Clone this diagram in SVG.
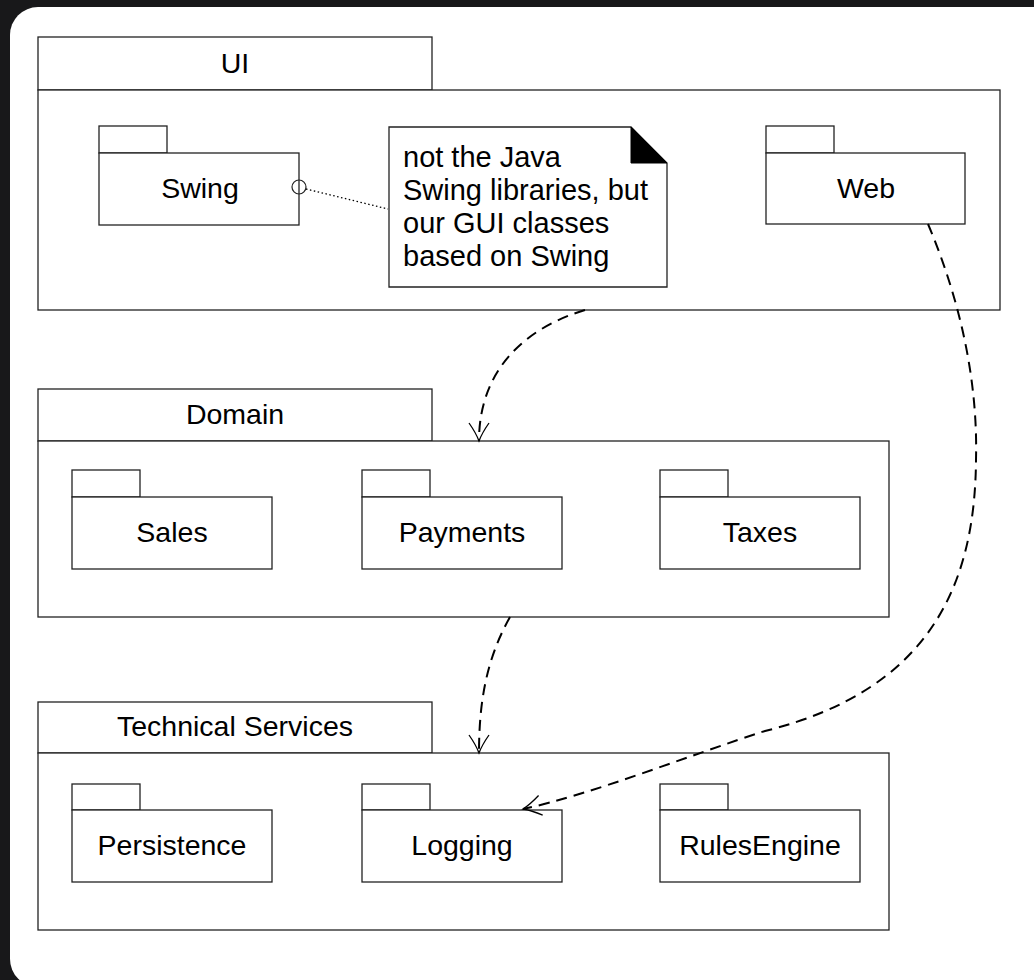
<svg xmlns="http://www.w3.org/2000/svg" width="1034" height="980" viewBox="0 0 1034 980">
  <defs>
    <style>
      .box { fill: #ffffff; stroke: #222222; stroke-width: 1.3; }
      .lbl { font-family: "Liberation Sans", Arial, sans-serif; font-size: 28.5px; fill: #000000; text-anchor: middle; }
      .note { font-family: "Liberation Sans", Arial, sans-serif; font-size: 29px; fill: #000000; }
      .dep { fill: none; stroke: #000000; stroke-width: 2; stroke-dasharray: 11 7; }
    </style>
    <marker id="openArrow" viewBox="-20 -12 24 24" refX="0" refY="0" markerWidth="24" markerHeight="24" markerUnits="userSpaceOnUse" orient="auto">
      <path d="M-18,-10 Q-8,-3 0,0 Q-8,3 -18,10" fill="none" stroke="#000000" stroke-width="1.3"/>
    </marker>
  </defs>

  <!-- backdrop and sheet -->
  <rect x="0" y="0" width="1034" height="980" fill="#18181a"/>
  <rect x="10" y="7" width="1100" height="980" rx="28" ry="28" fill="#ffffff"/>

  <!-- UI layer -->
  <g id="ui">
    <rect class="box" x="38" y="37" width="394" height="53"/>
    <rect class="box" x="38" y="90" width="962" height="220"/>
    <text class="lbl" x="235" y="73">UI</text>
  </g>
  <g id="swing">
    <rect class="box" x="99" y="126" width="68" height="27"/>
    <rect class="box" x="99" y="153" width="200" height="72"/>
    <text class="lbl" x="200" y="198">Swing</text>
    <circle cx="299" cy="187" r="7" fill="none" stroke="#222222" stroke-width="1.2"/>
  </g>
  <g id="swing-note">
    <path class="box" d="M389,127 H631 L667,163 V287 H389 Z"/>
    <path d="M631,127 L667,163 H631 Z" fill="#000000" stroke="#000000" stroke-width="1"/>
    <text class="note" x="403" y="167">not the Java</text>
    <text class="note" x="403" y="200">Swing libraries, but</text>
    <text class="note" x="403" y="233">our GUI classes</text>
    <text class="note" x="403" y="266">based on Swing</text>
  </g>
  <g id="web">
    <rect class="box" x="766" y="126" width="68" height="27"/>
    <rect class="box" x="766" y="153" width="199" height="71"/>
    <text class="lbl" x="866" y="198">Web</text>
  </g>

  <!-- Domain layer -->
  <g id="domain">
    <rect class="box" x="38" y="389" width="394" height="52"/>
    <rect class="box" x="38" y="441" width="851" height="176"/>
    <text class="lbl" x="235" y="424">Domain</text>
  </g>
  <g id="sales">
    <rect class="box" x="72" y="470" width="68" height="27"/>
    <rect class="box" x="72" y="497" width="200" height="72"/>
    <text class="lbl" x="172" y="542">Sales</text>
  </g>
  <g id="payments">
    <rect class="box" x="362" y="470" width="68" height="27"/>
    <rect class="box" x="362" y="497" width="200" height="72"/>
    <text class="lbl" x="462" y="542">Payments</text>
  </g>
  <g id="taxes">
    <rect class="box" x="660" y="470" width="68" height="27"/>
    <rect class="box" x="660" y="497" width="200" height="72"/>
    <text class="lbl" x="760" y="542">Taxes</text>
  </g>

  <!-- Technical Services layer -->
  <g id="technical-services">
    <rect class="box" x="38" y="702" width="394" height="51"/>
    <rect class="box" x="38" y="753" width="851" height="177"/>
    <text class="lbl" x="235" y="736">Technical Services</text>
  </g>
  <g id="persistence">
    <rect class="box" x="72" y="784" width="68" height="26"/>
    <rect class="box" x="72" y="810" width="200" height="72"/>
    <text class="lbl" x="172" y="855">Persistence</text>
  </g>
  <g id="logging">
    <rect class="box" x="362" y="784" width="68" height="26"/>
    <rect class="box" x="362" y="810" width="200" height="72"/>
    <text class="lbl" x="462" y="855">Logging</text>
  </g>
  <g id="rules-engine">
    <rect class="box" x="660" y="784" width="68" height="26"/>
    <rect class="box" x="660" y="810" width="200" height="72"/>
    <text class="lbl" x="760" y="855">RulesEngine</text>
  </g>

  <!-- connectors -->
  <g id="connectors">
    <line x1="306" y1="189" x2="388" y2="209" stroke="#000000" stroke-width="1.3" stroke-dasharray="1.5 2.5"/>
    <path class="dep" d="M585,310 C525,328 479,370 479,441" marker-end="url(#openArrow)"/>
    <path class="dep" d="M510,617 C487,658 479,700 479,753" marker-end="url(#openArrow)"/>
    <path class="dep" d="M928,224 C960,300 978,380 976,460 C975,585 930,690 765,731 C690,755 590,795 523,809" marker-end="url(#openArrow)"/>
  </g>
</svg>
